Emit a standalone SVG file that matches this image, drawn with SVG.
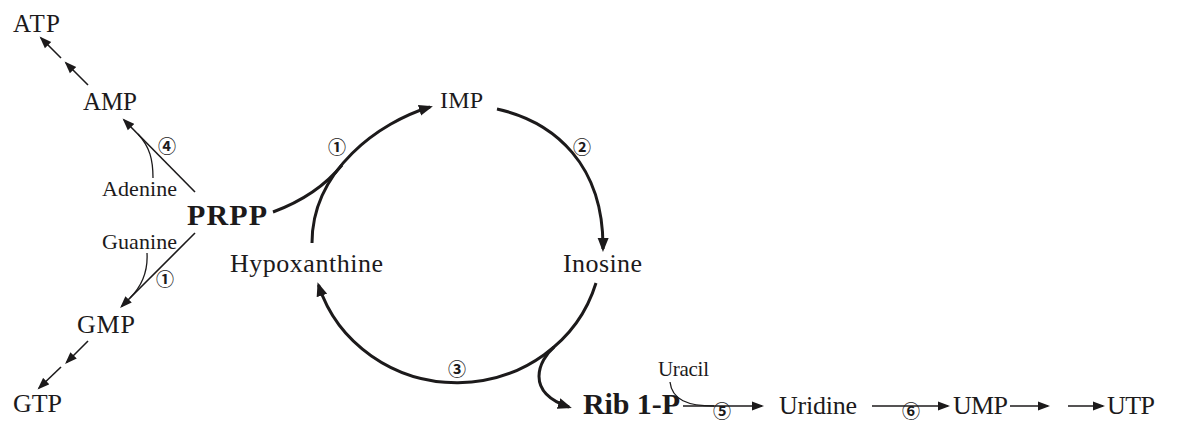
<svg xmlns="http://www.w3.org/2000/svg" width="1186" height="422" viewBox="0 0 1186 422">
<style>
 .t{font-family:"Liberation Serif","Times New Roman",serif;fill:#1c1a1b}
 .m{font-size:26px}
 .s{font-size:22px}
 .b{font-size:30px;font-weight:bold}
 .n{font-family:"Noto Sans CJK JP","DejaVu Sans",sans-serif;font-size:18px;font-weight:bold;fill:#1c1a1b;text-anchor:middle}
 .thick{fill:none;stroke:#1c1a1b;stroke-width:3}
 .thin{fill:none;stroke:#1c1a1b;stroke-width:1.6}
 .hair{fill:none;stroke:#1c1a1b;stroke-width:1.3}
</style>
<defs>
 <marker id="big" markerUnits="userSpaceOnUse" markerWidth="16" markerHeight="12" refX="11" refY="6" orient="auto"><path d="M0,0.5 L14,6 L0,11.5 z" fill="#1c1a1b"/></marker>
 <marker id="sm" markerUnits="userSpaceOnUse" markerWidth="14" markerHeight="10" refX="10" refY="5" orient="auto"><path d="M0,0.5 L12,5 L0,9.5 z" fill="#1c1a1b"/></marker>
</defs>
<g id="connectors">
 <path class="thin" d="M88 85 L66 63" marker-end="url(#sm)"/>
 <path class="thin" d="M61 58 L41 38" marker-end="url(#sm)"/>
 <path class="thin" d="M195 192 L124 120" marker-end="url(#sm)"/>
 <path class="hair" d="M153 178 C153 160 150 147 138 134"/>
 <path class="thin" d="M195 233 L121.5 306.5" marker-end="url(#sm)"/>
 <path class="hair" d="M147 253 C148 270 142 286 130 298"/>
 <path class="thin" d="M88 341 L66.5 362.5" marker-end="url(#sm)"/>
 <path class="thin" d="M61 367 L39 388" marker-end="url(#sm)"/>
 <path class="thick" d="M273 212 C300 202 325 186 342 165"/>
 <path class="thick" d="M312 243 C312 170 380 122 430 107" marker-end="url(#big)"/>
 <path class="thick" d="M497 109 C555 122 604 165 603 249" marker-end="url(#big)"/>
 <path class="thick" d="M596 283 A145 139 0 0 1 318.5 285" marker-end="url(#big)"/>
 <path class="thick" d="M554 347 C539 360 524 392 569 407" marker-end="url(#big)"/>
 <path class="thin" d="M683 406 L762 406" marker-end="url(#sm)"/>
 <path class="hair" d="M670 382 C672 400 688 406 714 406"/>
 <path class="thin" d="M872 406 L948 406" marker-end="url(#sm)"/>
 <path class="thin" d="M1010 406 L1048 406" marker-end="url(#sm)"/>
 <path class="thin" d="M1068 406 L1103 406" marker-end="url(#sm)"/>
</g>
<g id="enzymes">
 <text class="n" x="167" y="153">④</text>
 <text class="n" x="165" y="286">①</text>
 <text class="n" x="337" y="154">①</text>
 <text class="n" x="582" y="154">②</text>
 <text class="n" x="457" y="376">③</text>
 <text class="n" x="722" y="418" font-size="13">⑤</text>
 <text class="n" x="911" y="418" font-size="13">⑥</text>
</g>
<g id="ATP"><text class="t" x="13" y="32" font-size="25" textLength="47">ATP</text></g>
<g id="AMP"><text class="t" x="83" y="110" font-size="25" textLength="54">AMP</text></g>
<g id="PRPP"><text class="t b" x="187" y="225" textLength="80">PRPP</text></g>
<g id="Adenine"><text class="t s" x="102" y="196" textLength="75">Adenine</text></g>
<g id="Guanine"><text class="t s" x="102" y="249" textLength="75">Guanine</text></g>
<g id="GMP"><text class="t m" x="77" y="333" textLength="58">GMP</text></g>
<g id="GTP"><text class="t m" x="13" y="412" textLength="49">GTP</text></g>
<g id="IMP"><text class="t" x="440" y="108" font-size="24" textLength="43">IMP</text></g>
<g id="Hypoxanthine"><text class="t m" x="230" y="272" textLength="153">Hypoxanthine</text></g>
<g id="Inosine"><text class="t m" x="563" y="272" textLength="79">Inosine</text></g>
<g id="Rib1P"><text class="t b" x="583" y="414" textLength="97">Rib 1-P</text></g>
<g id="Uracil"><text class="t" x="658" y="376" font-size="21" textLength="51">Uracil</text></g>
<g id="Uridine"><text class="t m" x="779" y="414" textLength="78">Uridine</text></g>
<g id="UMP"><text class="t m" x="953" y="414" textLength="55">UMP</text></g>
<g id="UTP"><text class="t m" x="1107" y="414" textLength="48">UTP</text></g>
</svg>
